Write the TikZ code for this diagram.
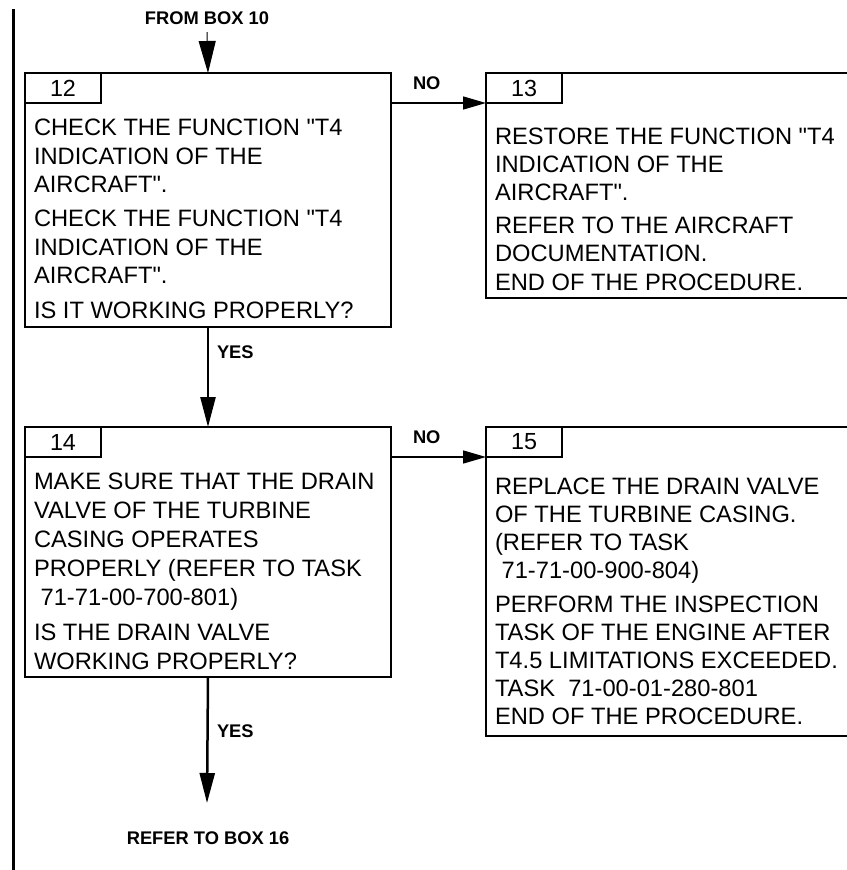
\documentclass[tikz,border=0pt]{standalone}
\usepackage{fontspec}
\setmainfont{Liberation Sans}
\newfontfamily\bodyfont{Liberation Sans}
\newfontfamily\lblfont{Liberation Sans}
\usetikzlibrary{arrows.meta}
\tikzset{
  box/.style={draw, line width=2pt, inner sep=0pt, outer sep=0pt, anchor=north west},
  tab/.style={draw, line width=2pt, inner sep=0pt, outer sep=0pt, anchor=north west,
    minimum width=76pt, minimum height=30pt, font=\bodyfont\fontsize{23.3}{25}\selectfont},
  body/.style={anchor=base west, inner sep=0pt, outer sep=0pt,
    font=\bodyfont\fontsize{23.7}{28.5}\selectfont},
  lbl/.style={inner sep=0pt, outer sep=0pt, font=\lblfont\bfseries\fontsize{18.3}{20}\selectfont},
  yesarrow/.style={line width=2.5pt, -{Triangle[length=30pt,width=15pt]}},
  noarrow/.style={line width=1.5pt, -{Triangle[length=23pt,width=13pt]}},
  toparrow/.style={line width=1pt, -{Triangle[length=32pt,width=17pt]}},
  bar/.style={line width=3.5pt}
}
\begin{document}
\begin{tikzpicture}[x=1pt,y=-1pt]
\useasboundingbox (0,0) rectangle (846,870);

% change bar
\coordinate (bartop) at (13.5,9);
\coordinate (barbot) at (13.5,872);
\draw[bar] (bartop) -- (barbot);

% boxes
\node[box, minimum width=366pt, minimum height=254pt] (b12) at (25,73) {};
\node[box, minimum width=362pt, minimum height=225pt] (b13) at (486,73) {};
\node[box, minimum width=366pt, minimum height=250pt] (b14) at (25,427) {};
\node[box, minimum width=362pt, minimum height=309pt] (b15) at (486,427) {};

% number tabs
\node[tab] (n12) at (b12.north west) {12};
\node[tab] (n13) at (b13.north west) {13};
\node[tab] (n14) at (b14.north west) {14};
\node[tab] (n15) at (b15.north west) {15};

% box texts
\node[body] (x12) at (34,135.5) {\vtop{\baselineskip=28.5pt
  \hbox{CHECK THE FUNCTION "T4}
  \hbox{INDICATION OF THE}
  \hbox{AIRCRAFT".}
  \vskip5.5pt
  \hbox{CHECK THE FUNCTION "T4}
  \hbox{INDICATION OF THE}
  \hbox{AIRCRAFT".}
  \vskip6pt
  \hbox{IS IT WORKING PROPERLY?}}};

\node[body] (x13) at (495,144) {\vtop{\baselineskip=28.2pt
  \hbox{RESTORE THE FUNCTION "T4}
  \hbox{INDICATION OF THE}
  \hbox{AIRCRAFT".}
  \vskip5pt
  \hbox{REFER TO THE AIRCRAFT}
  \hbox{DOCUMENTATION.}
  \hbox{END OF THE PROCEDURE.}}};

\node[body] (x14) at (34,489) {\vtop{\baselineskip=29pt
  \hbox{MAKE SURE THAT THE DRAIN}
  \hbox{VALVE OF THE TURBINE}
  \hbox{CASING OPERATES}
  \hbox{PROPERLY (REFER TO TASK}
  \hbox{\ 71-71-00-700-801)}
  \vskip6pt
  \hbox{IS THE DRAIN VALVE}
  \hbox{WORKING PROPERLY?}}};

\node[body] (x15) at (495,494) {\vtop{\baselineskip=28pt
  \hbox{REPLACE THE DRAIN VALVE}
  \hbox{OF THE TURBINE CASING.}
  \hbox{(REFER TO TASK}
  \hbox{\ 71-71-00-900-804)}
  \vskip6pt
  \hbox{PERFORM THE INSPECTION}
  \hbox{TASK OF THE ENGINE AFTER}
  \hbox{T4.5 LIMITATIONS EXCEEDED.}
  \hbox{TASK\ \ 71-00-01-280-801}
  \hbox{END OF THE PROCEDURE.}}};

% labels
\node[lbl, anchor=base] (from) at (207,24) {FROM BOX 10};
\node[lbl, anchor=base] (refer) at (208,844) {REFER TO BOX 16};
\node[lbl, anchor=base west] (yes1) at (217,358) {YES};
\node[lbl, anchor=base west] (yes2) at (217,737) {YES};
\node[lbl, anchor=base west] (no1) at (413,89) {NO};
\node[lbl, anchor=base west] (no2) at (413,443) {NO};

% connectors
\draw[toparrow] ([yshift=-8pt]from.south) -- (b12.north);
\draw[yesarrow] (b12.south) -- (b14.north);
\coordinate (end) at (207,803);
\draw[yesarrow] (b14.south) -- (end);
\draw[noarrow] (b12.east |- n13.south) -- (n13.south west);
\draw[noarrow] (b14.east |- n15.south) -- (n15.south west);
\end{tikzpicture}
\end{document}
